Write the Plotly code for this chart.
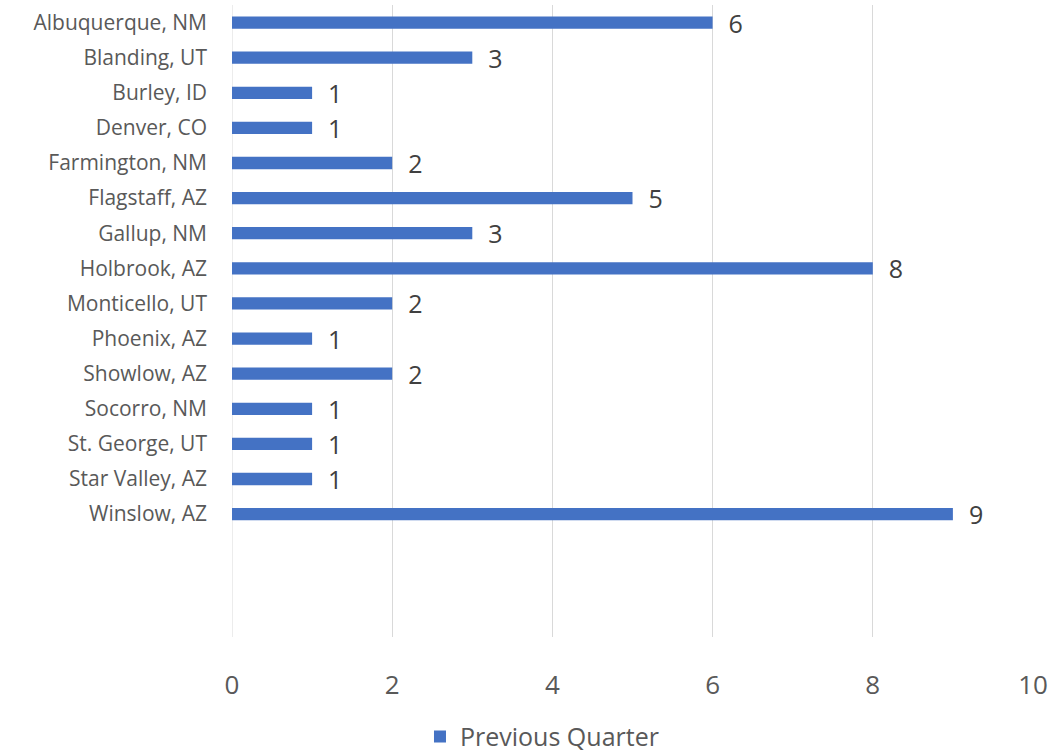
import plotly.graph_objects as go

cities = ["Albuquerque, NM", "Blanding, UT", "Burley, ID", "Denver, CO",
          "Farmington, NM", "Flagstaff, AZ", "Gallup, NM", "Holbrook, AZ",
          "Monticello, UT", "Phoenix, AZ", "Showlow, AZ", "Socorro, NM",
          "St. George, UT", "Star Valley, AZ", "Winslow, AZ"]
previous_quarter = [6, 3, 1, 1, 2, 5, 3, 8, 2, 1, 2, 1, 1, 1, 9]
x_ticks = [0, 2, 4, 6, 8, 10]

font = "Open Sans"
grey = "#595959"

trace = go.Bar(y=cities,
               x=previous_quarter,
               orientation="h",
               name="Previous Quarter",
               marker=dict(color="#4472C4", line=dict(width=0)),
               texttemplate="  %{x}",
               textposition="outside",
               constraintext="none",
               cliponaxis=False,
               textfont=dict(family=font, size=25, color="#404040"))

layout = go.Layout(
    width=1051, height=755,
    margin=dict(l=232, r=18, t=5, b=118, autoexpand=False),
    plot_bgcolor="white", paper_bgcolor="white",
    bargap=0.65,
    showlegend=True,
    legend=dict(orientation="h", x=0.387, xanchor="center", y=-0.158, yanchor="middle",
                font=dict(family=font, size=25, color=grey)),
    xaxis=dict(range=[0, 10], tickvals=x_ticks, showgrid=True, gridcolor="#d9d9d9",
               gridwidth=1, zeroline=False, showline=False, automargin=False,
               ticklabelstandoff=30,
               tickfont=dict(family=font, size=26, color=grey)),
    yaxis=dict(type="category", categoryorder="array", categoryarray=cities,
               range=[17.5, -0.5], showgrid=False, zeroline=False, showline=False,
               ticks="", ticklabelstandoff=24, automargin=False,
               tickfont=dict(family=font, size=21, color=grey)),
)

fig = go.Figure(data=[trace], layout=layout)
fig.add_shape(type="line", xref="x", yref="paper", x0=0, x1=0, y0=0, y1=1,
              line=dict(color="#d9d9d9", width=1), layer="below")
fig.write_html("out.html", config={"displayModeBar": False},
               post_script="document.body.style.margin='0';")
